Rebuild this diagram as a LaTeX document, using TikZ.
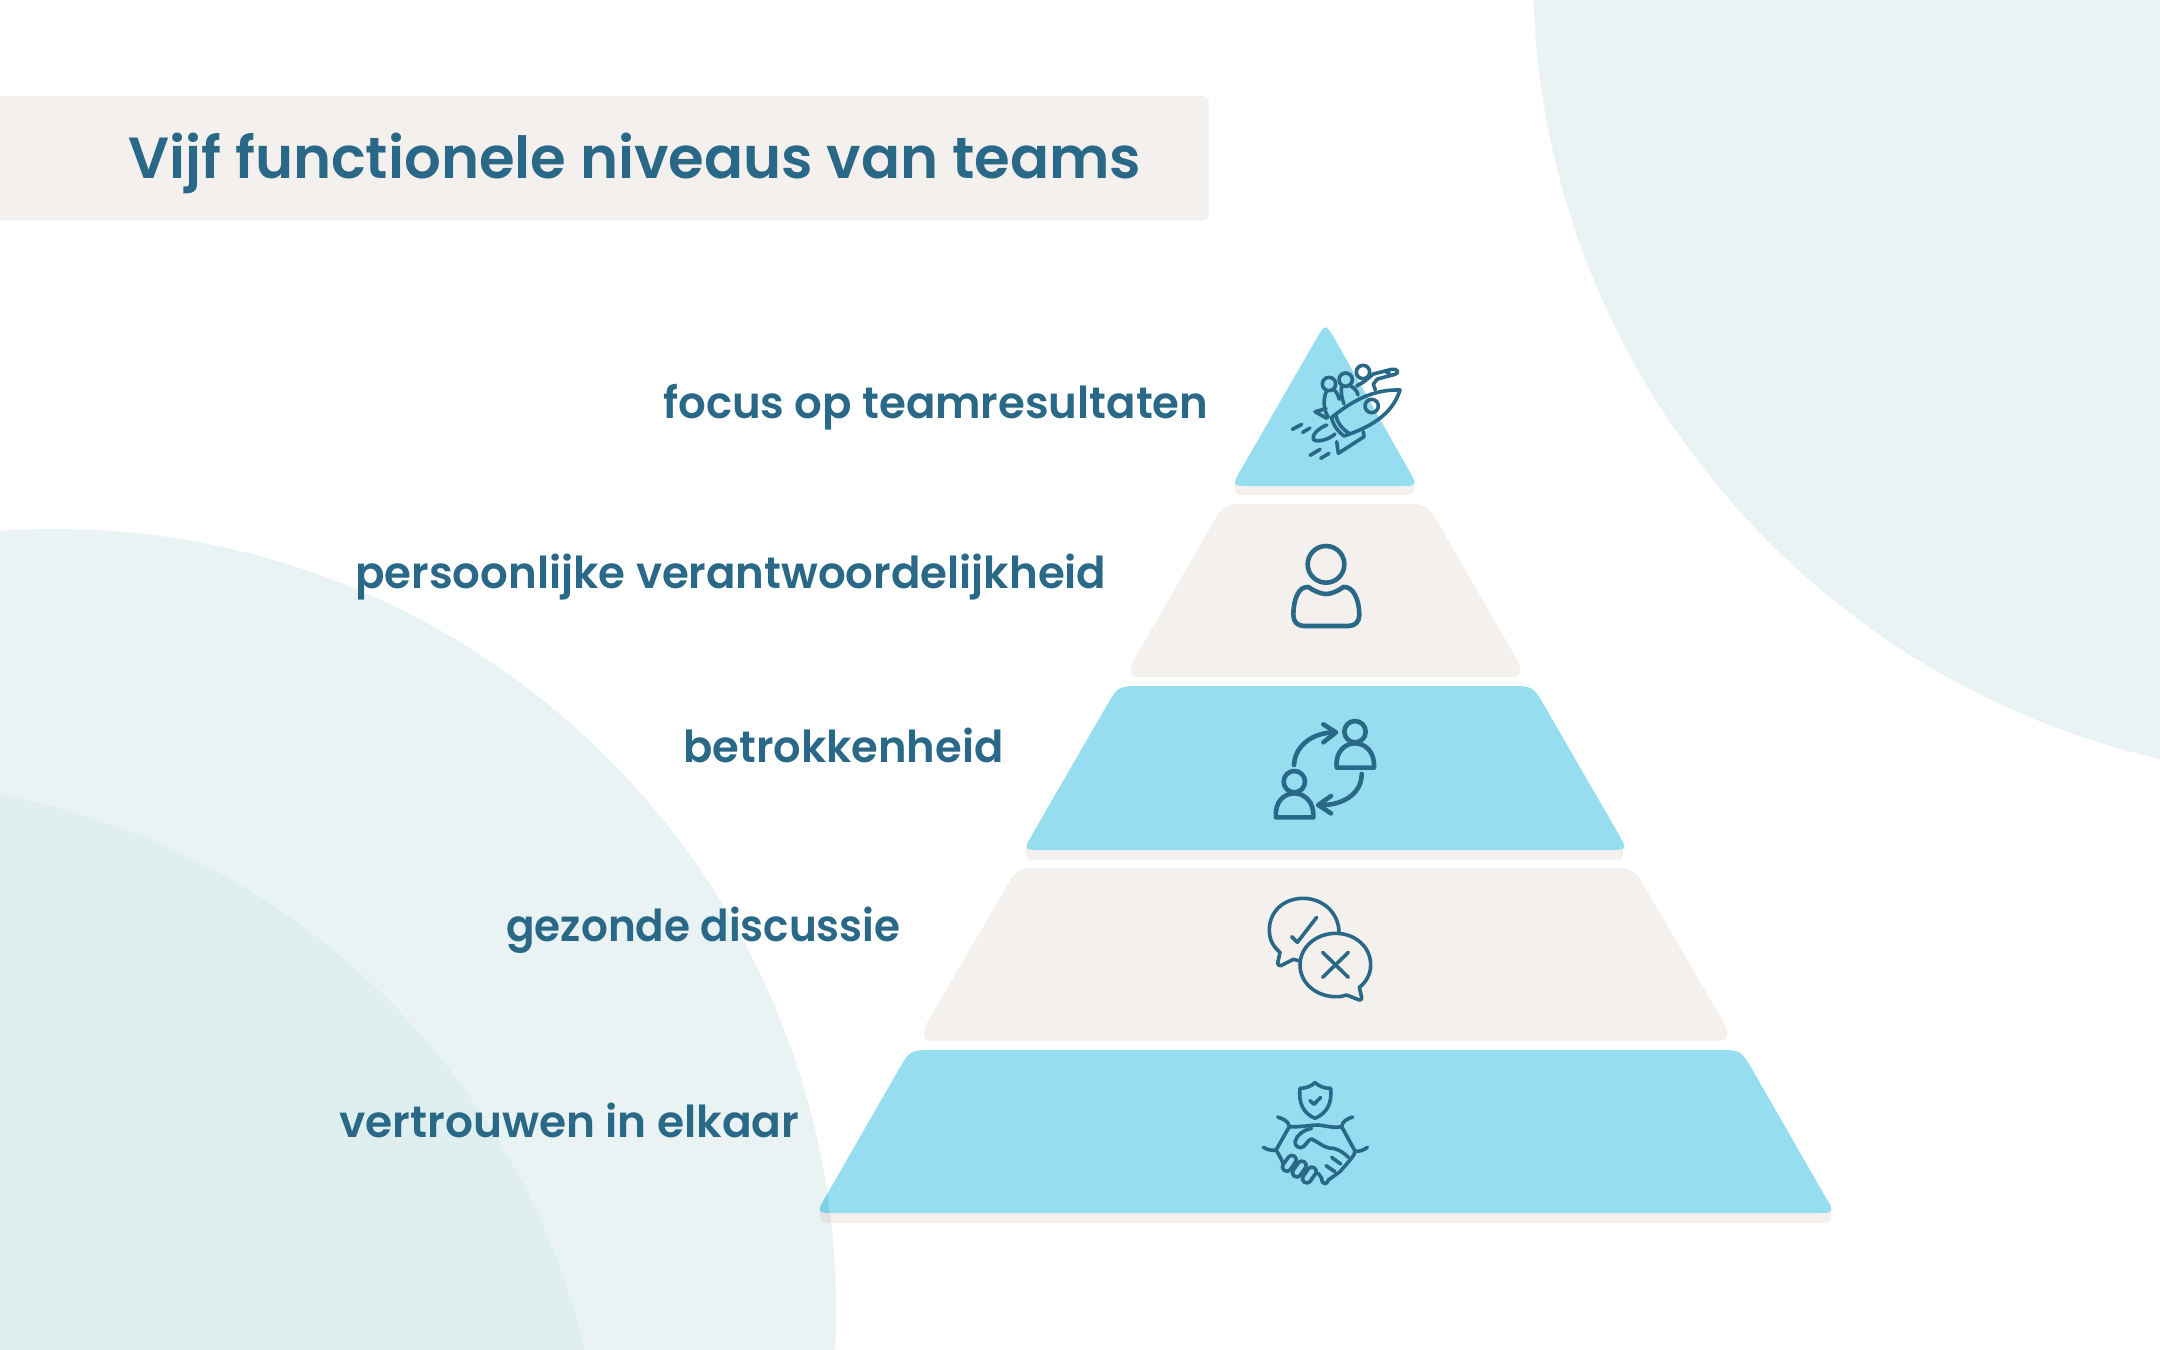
\documentclass[tikz,border=0pt]{standalone}
\usepackage{fontspec}
\setmainfont{Poppins SemiBold}
\definecolor{ink}{HTML}{2A6888}
\definecolor{sky}{HTML}{96DDEF}
\definecolor{skydark}{HTML}{7FD2E3}
\definecolor{sand}{HTML}{F4F0ED}
\definecolor{sanddark}{HTML}{E2E4E3}
\definecolor{pale}{HTML}{EAF3F3}
\definecolor{paler}{HTML}{DFEEEE}
\newsavebox{\fitbox}
\newcommand{\fitw}[2]{\sbox{\fitbox}{#2}\pgfmathsetmacro{\fitr}{#1*0.5pt/\wd\fitbox}\scalebox{\fitr}[1]{\usebox{\fitbox}}}
% #1 top half width, #2 bottom half width, #3 top y, #4 bottom y
\newcommand{\tiershape}[4]{(1325.5,#4) -- (1345.5-#2,#4) .. controls (1325.5-#2,#4) .. (1335.5-#2,#4-17.3) -- (1313.5-#1,#3+20.8) .. controls (1325.5-#1,#3) .. (1349.5-#1,#3) -- (1301.5+#1,#3) .. controls (1325.5+#1,#3) .. (1337.5+#1,#3+20.8) -- (1315.5+#2,#4-17.3) .. controls (1325.5+#2,#4) .. (1305.5+#2,#4) -- cycle}
% #1 top half width, #2 half width at the lip, #3 top y, #4 lip top, #5 bottom y
\newcommand{\lipshape}[5]{(1325.5,#5) [rounded corners=2.5pt] -- (1325.5-#2,#5) -- (1325.5-#2,#4) [rounded corners=6pt] -- (1325.5-#1,#3) -- (1325.5+#1,#3) [rounded corners=2.5pt] -- (1325.5+#2,#4) -- (1325.5+#2,#5) -- (1300,#5)}
\tikzset{
  lab/.style={anchor=base west,inner sep=0pt,text=ink,font=\fontsize{22}{26}\selectfont},
  ttl/.style={anchor=base west,inner sep=0pt,text=ink,font=\fontsize{29}{34}\selectfont},
  ic/.style={draw=ink,line width=2.3pt,line cap=round,line join=round,fill=none},
  icf/.style={draw=ink,line width=1.8pt,line cap=round,line join=round,fill=none},
  zoomA/.style={x=0.16667pt,y=-0.16667pt}
}
\begin{document}
\begin{tikzpicture}[x=0.5pt,y=-0.5pt]
\useasboundingbox (0,0) rectangle (2160,1350);
\fill[white] (0,0) rectangle (2160,1350);
% background circles
\begin{scope}
\clip (0,0) rectangle (2160,1350);
\fill[pale] (2340,-28) circle [radius=403.5pt];
\fill[pale] (55,1310) circle [radius=390.5pt];
\fill[paler] (-138.3,1526.6) circle [radius=372.3pt];
\end{scope}
% title band
\fill[sand,rounded corners=2.5pt] (-20,96) rectangle (1208.5,220.6);
% shadows
\fill[sand,rounded corners=3pt] (820,1200) rectangle (1831,1223);
\fill[sand,rounded corners=3pt] (1026,840) rectangle (1623,860);
\fill[sand,rounded corners=3pt] (1235,476) rectangle (1414,495);
% tiers
\fill[sand] \lipshape{308}{401.5}{868}{1028}{1040.5};
\fill[sand] \lipshape{101.6}{194.5}{504}{665}{677};
\fill[sky] \tiershape{207.5}{302.25}{686}{850};
\fill[sky] \tiershape{415.5}{509.25}{1050}{1213};
\fill[sky] (1325.5,486) -- (1251.5,486) .. controls (1231.5,486) .. (1241.5,468.7) -- (1315.5,340.3) .. controls (1325.5,323) .. (1335.5,340.3) -- (1408,468.7) .. controls (1418,486) .. (1398,486) -- cycle;
% overlap with the circle
\begin{scope}
\clip (55,1310) circle [radius=390.5pt];
\fill[sanddark,rounded corners=3pt] (820,1200) rectangle (1831,1223);
\fill[skydark] \tiershape{415.5}{509.25}{1050}{1213};
\end{scope}
% labels
\node[ttl] (title) at (128,178) {\fitw{1013}{Vijf functionele niveaus van teams}};
\node[lab] (l1) at (663,418) {\fitw{545}{focus op teamresultaten}};
\node[lab] (l2) at (355,588) {\fitw{751}{persoonlijke verantwoordelijkheid}};
\node[lab] (l3) at (683,762) {\fitw{320}{betrokkenheid}};
\node[lab] (l4) at (506,941) {\fitw{394}{gezonde discussie}};
\node[lab] (l5) at (339,1137) {\fitw{460}{vertrouwen in elkaar}};
% rocket icon
\begin{scope}[shift={(1200,310)},zoomA]
\draw[icf] (387,222) circle [radius=20];
\draw[icf] (437,209) circle [radius=20];
\draw[icf] (489,186) circle [radius=20];
\draw[icf] (380,242) .. controls (370,265) and (368,295) .. (385,322);
\draw[icf] (403,240) .. controls (412,250) and (416,258) .. (418,268);
\draw[icf] (425,228) .. controls (422,245) and (425,265) .. (432,282);
\draw[icf] (452,228) .. controls (465,235) and (472,245) .. (474,255);
\draw[icf] (470,228) -- (492,215) -- (520,192) -- (575,178) .. controls (592,175) and (600,188) .. (585,193) -- (532,207) -- (520,222) -- (526,240);
\draw[icf] (555,183) -- (570,193);
\draw[icf] (600,240) .. controls (530,238) and (470,262) .. (395,322) .. controls (398,345) and (415,365) .. (432,378) .. controls (500,355) and (575,320) .. (600,240) -- cycle;
\draw[icf] (408,317) .. controls (412,340) and (428,358) .. (447,370);
\draw[icf] (515,288) circle [radius=20];
\draw[icf] (378,296) -- (345,305) -- (380,325);
\draw[icf] (490,365) -- (492,380) -- (415,430) -- (410,395);
\draw[icf] (380,345) .. controls (355,355) and (335,375) .. (340,388) .. controls (350,398) and (385,390) .. (405,372);
\draw[icf] (277,358) -- (305,343);
\draw[icf] (308,367) -- (330,354);
\draw[icf] (330,436) -- (360,418);
\draw[icf] (362,445) -- (387,430);
\end{scope}
% person icon
\begin{scope}[shift={(1240,520)},zoomA]
\draw[ic] (258,133) circle [radius=55];
\draw[ic] (205,201) .. controls (225,215) and (245,222) .. (258,222) .. controls (272,222) and (292,215) .. (310,201) .. controls (340,198) and (358,240) .. (358,285) .. controls (358,305) and (345,318) .. (325,318) -- (192,318) .. controls (172,318) and (160,305) .. (160,285) .. controls (160,240) and (175,198) .. (205,201) -- cycle;
\end{scope}
% exchange icon
\begin{scope}[shift={(1250,700)},zoomA]
\draw[ic] (315,95) circle [radius=32];
\draw[ic] (260,203) .. controls (255,155) and (285,130) .. (315,130) .. controls (345,130) and (375,155) .. (372,203) -- cycle;
\draw[ic] (133,245) circle [radius=32];
\draw[ic] (78,352) .. controls (73,305) and (103,280) .. (133,280) .. controls (163,280) and (193,305) .. (190,352) -- cycle;
\draw[ic] (132,195) .. controls (135,135) and (190,97) .. (255,97);
\draw[ic] (220,73) -- (258,97) -- (220,127);
\draw[ic] (335,222) .. controls (335,280) and (280,318) .. (205,315);
\draw[ic] (243,288) -- (205,315) -- (243,340);
\end{scope}
% speech icon
\begin{scope}[shift={(1250,880)},zoomA]
\draw[icf] (267,155) .. controls (265,95) and (215,55) .. (160,55) .. controls (100,55) and (58,95) .. (58,150) .. controls (58,180) and (70,200) .. (90,217) -- (83,250) .. controls (83,255) and (88,257) .. (92,257) -- (130,238) -- (150,243);
\draw[icf] (328,322) .. controls (350,305) and (362,280) .. (362,255) .. controls (362,200) and (315,160) .. (257,160) .. controls (200,160) and (150,200) .. (150,255) .. controls (150,310) and (200,350) .. (257,350) .. controls (270,350) and (280,349) .. (290,345) -- (328,360) .. controls (333,360) and (336,358) .. (335,352) -- cycle;
\draw[icf] (125,170) -- (142,187) -- (200,112);
\draw[icf] (218,217) -- (295,292);
\draw[icf] (295,217) -- (218,292);
\end{scope}
% handshake icon
\begin{scope}[shift={(1240,1070)},zoomA]
\draw[icf] (225,38) .. controls (212,50) and (195,55) .. (180,55) .. controls (175,100) and (190,130) .. (225,145) .. controls (260,130) and (277,100) .. (272,55) .. controls (255,55) and (238,50) .. (225,38) -- cycle;
\draw[icf] (210,92) -- (222,103) -- (242,82);
\draw[icf] (113,141) .. controls (130,147) and (145,152) .. (148,170) -- (108,240) .. controls (95,243) and (80,238) .. (70,232);
\draw[icf] (338,141) .. controls (322,147) and (307,152) .. (305,170) -- (345,243) .. controls (358,246) and (372,240) .. (382,232);
\draw[icf] (148,170) .. controls (180,172) and (210,165) .. (235,165) .. controls (260,168) and (285,175) .. (305,170);
\draw[icf] (215,175) .. controls (190,180) and (170,195) .. (165,215) .. controls (165,230) and (178,237) .. (190,230) .. controls (200,222) and (205,208) .. (215,207) .. controls (235,215) and (250,235) .. (280,235) .. controls (295,238) and (315,250) .. (325,262);
\draw[icf] (108,240) .. controls (118,255) and (125,270) .. (130,282);
\foreach \cx/\cy in {148/280,178/297,208/315}
  \draw[icf,rounded corners=2pt,shift={(\cx,\cy)},rotate=55] (-26,-13) rectangle (26,13);
\draw[icf] (235,310) -- (245,325) .. controls (245,345) and (262,345) .. (265,330) -- (300,305) .. controls (330,270) and (345,255) .. (345,243);
\draw[icf] (275,262) -- (302,282);
\draw[icf] (258,287) -- (285,305);
\end{scope}
\end{tikzpicture}
\end{document}
